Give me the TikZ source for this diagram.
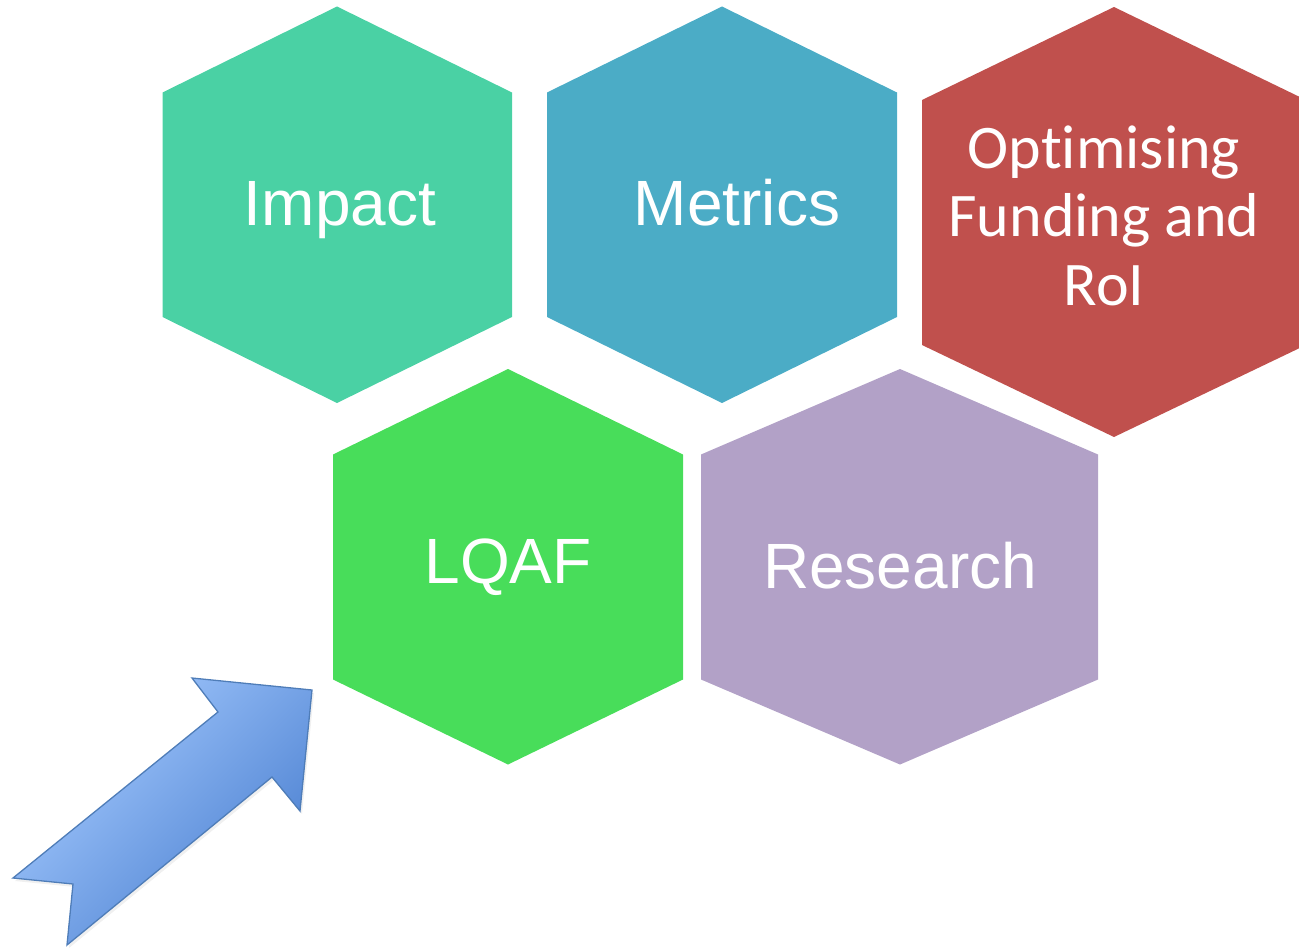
\documentclass[tikz,border=0pt]{standalone}
\usepackage{fontspec}
\newfontfamily\arialf{Liberation Sans}
\newfontfamily\calibrif[Ligatures=NoCommon]{Carlito}
\definecolor{impactc}{HTML}{4AD1A4}
\definecolor{metricsc}{HTML}{4BACC6}
\definecolor{fundc}{HTML}{C0504D}
\definecolor{lqafc}{HTML}{48DD5A}
\definecolor{researchc}{HTML}{B2A1C7}
\definecolor{arrowlight}{HTML}{A6CBFF}
\definecolor{arrowmid}{HTML}{8CB3F0}
\definecolor{arrowdark}{HTML}{4A7FD0}
\definecolor{arrowedge}{HTML}{4F7DB8}
\begin{document}
\begin{tikzpicture}[x=1pt,y=-1pt,
  hexlabel/.style={text=white, inner sep=0pt, anchor=base, font=\arialf\fontsize{64}{72}\selectfont},
  fundlabel/.style={text=white, inner sep=0pt, anchor=base, align=center, font=\calibrif\fontsize{62}{68.5}\selectfont},
  arrowshape/.style={draw=arrowedge, line width=1.3pt, line join=miter, top color=arrowlight, middle color=arrowmid, bottom color=arrowdark, shading angle=45}]
\useasboundingbox (0,0) rectangle (1299,950);
\begin{scope}
\clip (0,0) rectangle (1299,950);
% hexagons
\fill[impactc] (162.5,92.5) -- (337,6.5) -- (512,92.5) -- (512,317) -- (337,403) -- (162.5,317) -- cycle;
\fill[metricsc] (547,92.5) -- (722,6.5) -- (897,92.5) -- (897,317) -- (722,403) -- (547,317) -- cycle;
\fill[fundc] (922,100) -- (1114,7) -- (1306,100) -- (1306,345) -- (1114,437) -- (922,345) -- cycle;
\fill[lqafc] (333,454.5) -- (508,369) -- (683,454.5) -- (683,679.5) -- (508,764.5) -- (333,679.5) -- cycle;
\fill[researchc] (701,454.5) -- (900,369) -- (1098,454.5) -- (1098,679.5) -- (900,764.5) -- (701,679.5) -- cycle;
\end{scope}
% labels
\node[hexlabel] (impact) at (340,225) {Impact};
\node[hexlabel] (metrics) at (737,225) {Metrics};
\node[fundlabel] (fund) at (1104,305) {Optimising\\Funding and\\RoI};
\node[hexlabel] (lqaf) at (508,583) {LQAF};
\node[hexlabel] (research) at (900,588) {Research};
% arrow
\coordinate (a1) at (192,678);
\coordinate (tip) at (312,690);
\coordinate (a3) at (300,811);
\coordinate (a4) at (272,777);
\coordinate (a5) at (67,945);
\coordinate (a6) at (73,884);
\coordinate (a7) at (13,878);
\coordinate (a8) at (218,712);
\fill[black, opacity=0.06] ([shift={(2,3)}]a1) -- ([shift={(2,3)}]tip) -- ([shift={(2,3)}]a3) -- ([shift={(2,3)}]a4) -- ([shift={(2,3)}]a5) -- ([shift={(2,3)}]a6) -- ([shift={(2,3)}]a7) -- ([shift={(2,3)}]a8) -- cycle;
\path[arrowshape] (a1) -- (tip) -- (a3) -- (a4) -- (a5) -- (a6) -- (a7) -- (a8) -- cycle;
\end{tikzpicture}
\end{document}
